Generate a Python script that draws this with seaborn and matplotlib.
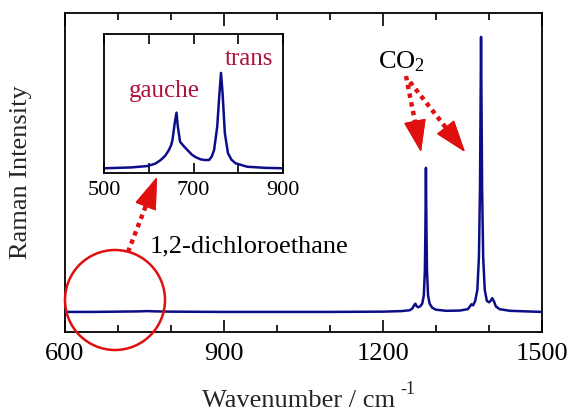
import numpy as np
import pandas as pd
import seaborn as sns
import matplotlib.pyplot as plt
from matplotlib.patches import Ellipse
from matplotlib.lines import Line2D
from matplotlib.ticker import MultipleLocator, FuncFormatter

sns.set_theme(style="ticks")
plt.rcParams['font.family'] = ['Liberation Serif', 'DejaVu Serif']
plt.rcParams['mathtext.fontset'] = 'custom'
plt.rcParams['mathtext.rm'] = 'Liberation Serif'
plt.rcParams['mathtext.it'] = 'Liberation Serif'
plt.rcParams['mathtext.bf'] = 'Liberation Serif'

# main spectrum (wavenumber, relative intensity)
wavenumber = [600, 650, 700, 740, 755, 770, 800, 900, 1000, 1100, 1200, 1235,
              1250, 1255, 1259, 1261, 1263, 1266, 1270, 1274, 1277, 1279, 1280,
              1281, 1282, 1283, 1285, 1288, 1293, 1300, 1320, 1345, 1360, 1364,
              1367, 1370, 1374, 1378, 1381, 1383, 1385, 1387, 1389, 1392, 1396,
              1400, 1403, 1406, 1409, 1413, 1420, 1440, 1470, 1500]
intensity = [0.0, 0.0, 0.001, 0.002, 0.003, 0.002, 0.001, 0.0, 0.0, 0.0, 0.001, 0.003,
             0.006, 0.012, 0.025, 0.03, 0.022, 0.017, 0.02, 0.03, 0.06, 0.15, 0.3,
             0.524, 0.3, 0.15, 0.06, 0.03, 0.015, 0.008, 0.004, 0.005, 0.01, 0.02,
             0.028, 0.024, 0.04, 0.08, 0.2, 0.45, 1.0, 0.45, 0.2, 0.08, 0.04,
             0.035, 0.04, 0.05, 0.04, 0.02, 0.01, 0.004, 0.002, 0.0]

# inset: 1,2-dichloroethane region
inset_wn = [500, 560, 597, 615, 627, 637, 645, 650, 653, 658, 662, 665, 670, 679,
            688, 697, 706, 716, 726, 735, 741, 746, 753, 758, 761.5, 765, 770,
            777, 785, 794, 820, 860, 900]
inset_int = [0.034, 0.04, 0.05, 0.068, 0.094, 0.125, 0.165, 0.2, 0.237, 0.357,
             0.434, 0.333, 0.225, 0.19, 0.16, 0.13, 0.112, 0.098, 0.093, 0.094,
             0.12, 0.165, 0.333, 0.573, 0.72, 0.573, 0.288, 0.142, 0.095, 0.07,
             0.045, 0.037, 0.034]

main_ticks = [600, 900, 1200, 1500]
inset_ticks = [500, 700, 900]

line_color = '#0d0d8a'
red = '#e01010'
label_red = '#b0103c'

W, H = 571, 416


def fx(px):
    return px / W


def fy(py):
    return 1 - py / H


fig = plt.figure(figsize=(W / 100, H / 100), dpi=100)
ax = fig.add_axes([fx(65), fy(332), fx(542) - fx(65), fy(13) - fy(332)])

df = pd.DataFrame({'wn': wavenumber, 'I': intensity})
sns.lineplot(data=df, x='wn', y='I', ax=ax, color=line_color, lw=1.8)
ax.set_xlim(600, 1500)
ax.set_ylim(-0.073, 1.087)
ax.set_xticks(main_ticks)
ax.xaxis.set_minor_locator(MultipleLocator(100))
ax.set_yticks([])
ax.tick_params(axis='x', which='both', direction='in', top=True, labelsize=19,
               width=1.2, colors='black', pad=8)
ax.tick_params(axis='x', which='major', length=9)
ax.tick_params(axis='x', which='minor', length=5)
for s in ax.spines.values():
    s.set_linewidth(1.3)
    s.set_color('black')
ax.set_xlabel('Wavenumber / cm', fontsize=19)
ax.set_ylabel('Raman Intensity', fontsize=19)
ax.xaxis.set_label_coords(0.49, -0.183)
ax.yaxis.set_label_coords(-0.069, 0.5)

# inset
axi = fig.add_axes([fx(104), fy(173), fx(283) - fx(104), fy(34) - fy(173)])
dfi = pd.DataFrame({'wn': inset_wn, 'I': inset_int})
sns.lineplot(data=dfi, x='wn', y='I', ax=axi, color=line_color, lw=1.8)
axi.set_xlim(500, 900)
axi.set_ylim(0, 1)
axi.xaxis.set_major_locator(MultipleLocator(100))
axi.xaxis.set_major_formatter(FuncFormatter(lambda v, p: f'{int(v)}' if int(v) in inset_ticks else ''))
axi.set_yticks([])
axi.set_xlabel('')
axi.set_ylabel('')
axi.tick_params(axis='x', direction='in', top=True, length=7, width=1.2,
                labelsize=16, colors='black', pad=6)
for s in axi.spines.values():
    s.set_linewidth(1.3)
    s.set_color('black')

fig.text(fx(129), fy(97), 'gauche', color=label_red, fontsize=18, va='baseline')
fig.text(fx(225), fy(65), 'trans', color=label_red, fontsize=18, va='baseline')
fig.text(fx(378), fy(68), 'CO$_2$', color='black', fontsize=19, va='baseline')
fig.text(fx(150), fy(252), '1,2-dichloroethane', color='black', fontsize=19, va='baseline')

# superscript of the x label, written as in the original ("-1" after a space)
fig.canvas.draw()
bb = ax.xaxis.label.get_window_extent()
fig.text((bb.x1 + 5) / W, (bb.y0 + 18) / H, '-1', fontsize=13, va='baseline', ha='left')

# red circle around the weak solvent bands
fig.add_artist(Ellipse((fx(115), fy(300)), 2 * 50 / W, 2 * 50 / H,
                       transform=fig.transFigure, fill=False, ec=red, lw=1.8))


def dotted_arrow(x0, y0, x1, y1, head=22):
    d = np.hypot(x1 - x0, y1 - y0)
    t = (d - head * 0.8) / d
    xm, ym = x0 + (x1 - x0) * t, y0 + (y1 - y0) * t
    fig.add_artist(Line2D([fx(x0), fx(xm)], [fy(y0), fy(ym)], transform=fig.transFigure,
                          color=red, lw=3.2, ls=(0, (1, 1))))
    tb = (d - head) / d
    xb, yb = x0 + (x1 - x0) * tb, y0 + (y1 - y0) * tb
    fig.add_artist(plt.annotate('', xy=(fx(x1), fy(y1)), xytext=(fx(xb), fy(yb)),
                                xycoords='figure fraction', textcoords='figure fraction',
                                arrowprops=dict(arrowstyle='-|>,head_length=1.3,head_width=0.45',
                                                color=red, lw=1, shrinkA=0, shrinkB=0,
                                                mutation_scale=16)))


dotted_arrow(406, 76, 421, 152)
dotted_arrow(410, 82, 465, 152)
dotted_arrow(128, 252, 157, 177)

fig.savefig('out.png', dpi=100)
